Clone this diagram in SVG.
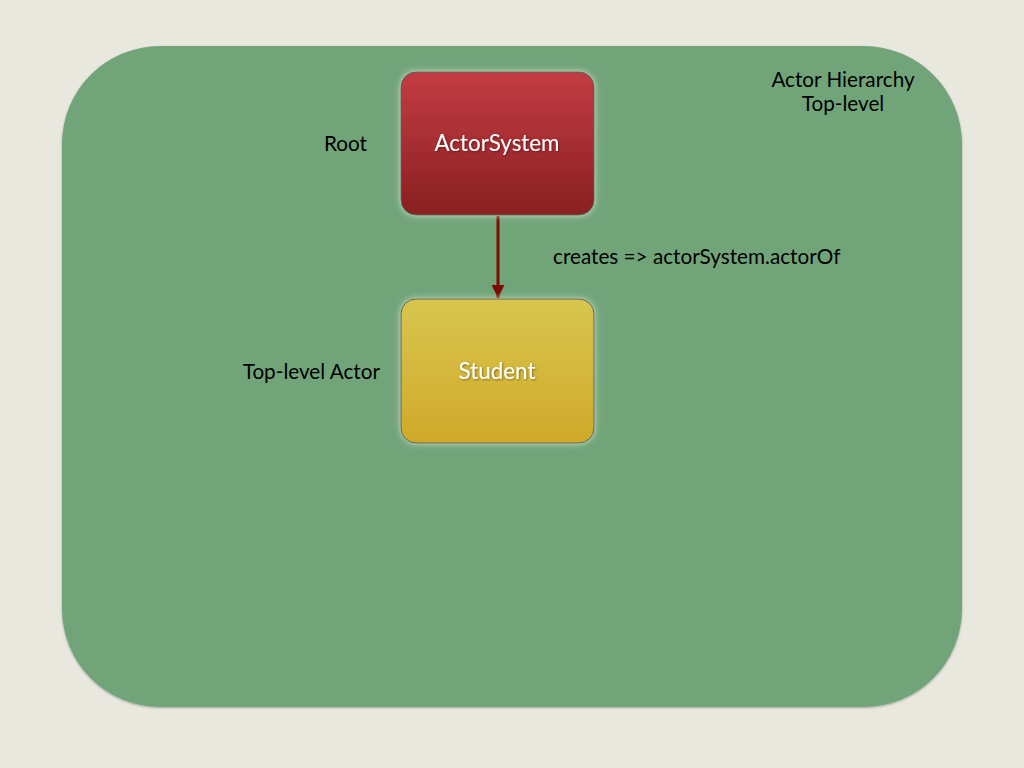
<svg xmlns="http://www.w3.org/2000/svg" width="1024" height="768" viewBox="0 0 1024 768">
<style>
.lbl{font-family:Lato,"Open Sans","Liberation Sans",sans-serif;font-size:20.7px;fill:#000}
.ntx{font-family:Lato,"Open Sans","Liberation Sans",sans-serif;font-size:22.4px;fill:#fff;text-anchor:middle;filter:url(#ts)}
.node{stroke:#5a5f5a;stroke-width:1;filter:url(#glow)}
</style>
<defs>
<linearGradient id="gRed" x1="0" y1="0" x2="0" y2="1"><stop offset="0" stop-color="#c33c43"/><stop offset="1" stop-color="#892021"/></linearGradient>
<linearGradient id="gYel" x1="0" y1="0" x2="0" y2="1"><stop offset="0" stop-color="#d8c64f"/><stop offset="1" stop-color="#d0a92a"/></linearGradient>
<filter id="glow" x="-20%" y="-20%" width="140%" height="140%">
<feGaussianBlur in="SourceAlpha" stdDeviation="3" result="b"/>
<feFlood flood-color="#e8f3d8" flood-opacity="0.8"/>
<feComposite in2="b" operator="in" result="g"/>
<feMerge><feMergeNode in="g"/><feMergeNode in="SourceGraphic"/></feMerge>
</filter>
<filter id="ts" x="-10%" y="-30%" width="120%" height="160%">
<feDropShadow dx="1" dy="1" stdDeviation="1" flood-color="#000" flood-opacity="0.4"/>
</filter>
<filter id="bgsh" x="-5%" y="-5%" width="110%" height="110%">
<feDropShadow dx="0" dy="1" stdDeviation="1" flood-color="#000" flood-opacity="0.3"/>
</filter>
<marker id="ah" markerWidth="13" markerHeight="13" refX="13" refY="6.5" orient="auto" markerUnits="userSpaceOnUse">
<path d="M0,0 L13,6.5 L0,13 Z" fill="#7d0c02"/>
</marker>
</defs>
<rect width="1024" height="768" fill="#e9e8df"/>
<rect id="frame" x="62" y="46" width="900" height="661" rx="98" ry="98" fill="#72a47a" filter="url(#bgsh)"/>
<text class="lbl" x="843" y="87" text-anchor="middle">Actor Hierarchy</text>
<text class="lbl" x="843" y="111" text-anchor="middle">Top-level</text>
<g id="connectors">
<line x1="498" y1="216" x2="498" y2="298" stroke="#7d0c02" stroke-width="3" marker-end="url(#ah)"/>
<text class="lbl" x="553" y="264">creates =&gt; actorSystem.actorOf</text>
</g>
<g id="actorSystem">
<rect class="node" x="401" y="72" width="193" height="143" rx="15" fill="url(#gRed)"/>
<text class="ntx" x="497" y="151">ActorSystem</text>
<text class="lbl" x="367" y="151" text-anchor="end">Root</text>
</g>
<g id="student">
<rect class="node" x="401" y="299" width="193" height="144" rx="15" fill="url(#gYel)"/>
<text class="ntx" x="497" y="379">Student</text>
<text class="lbl" x="380" y="379" text-anchor="end">Top-level Actor</text>
</g>
</svg>
